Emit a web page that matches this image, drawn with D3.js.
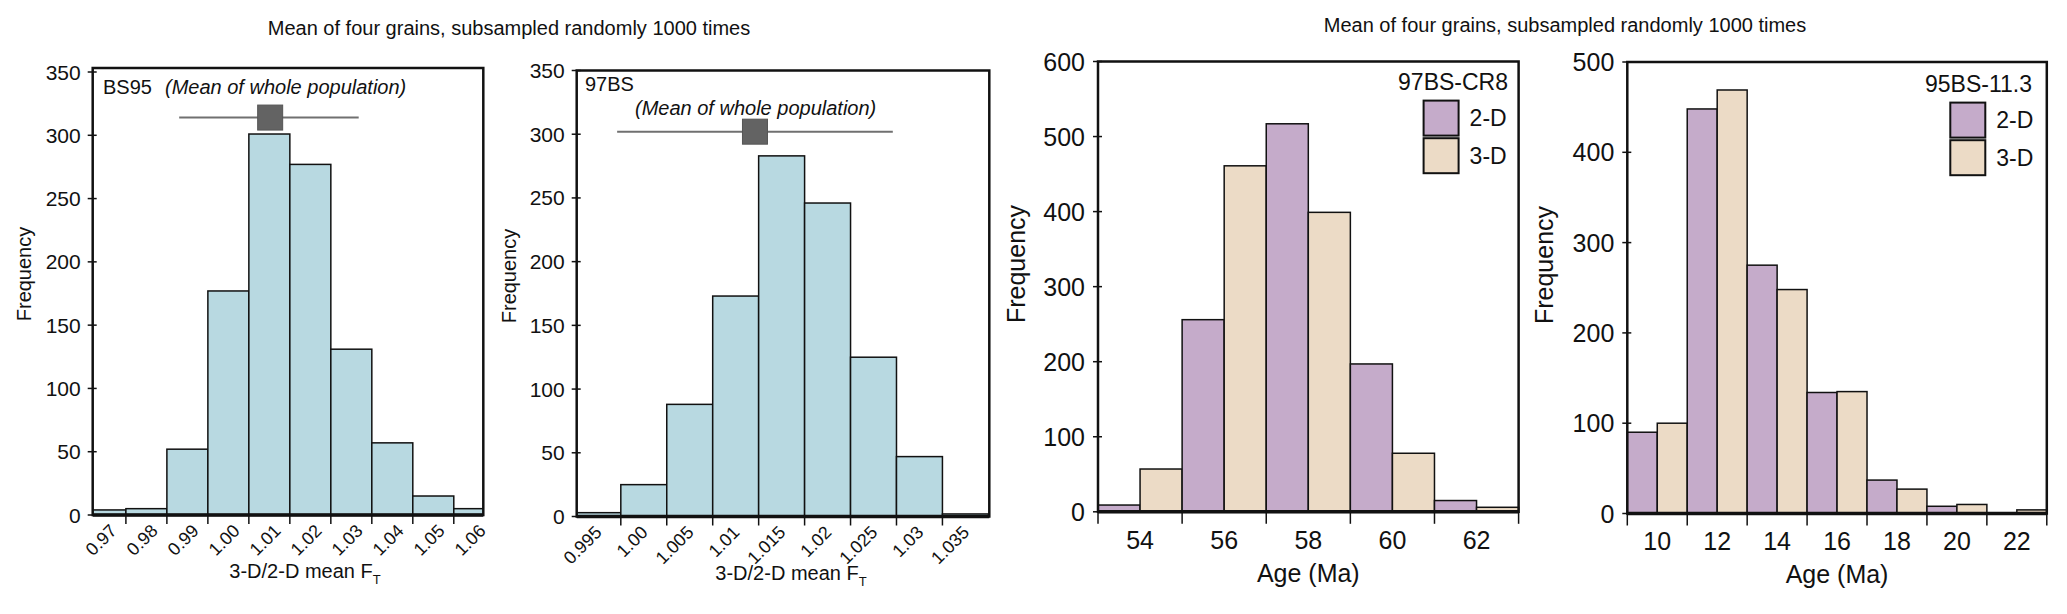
<!DOCTYPE html>
<html><head><meta charset="utf-8">
<script src="https://cdn.jsdelivr.net/npm/d3@7/dist/d3.min.js"></script>
<style>
body{margin:0;background:#fff;}
text{font-family:"Liberation Sans",Arial,sans-serif;fill:#111;}
</style></head>
<body>
<svg id="chart" width="2067" height="614"></svg>
<script>
// ---------- DATA ----------
const titleText = "Mean of four grains, subsampled randomly 1000 times";

// Panel 1: BS95
const p1BinStarts = [0.96, 0.97, 0.98, 0.99, 1.00, 1.01, 1.02, 1.03, 1.04, 1.05];
const p1BinWidth = 0.01;
const p1Counts = [4, 5, 52, 177, 301, 277, 131, 57, 15, 5];
const p1Ticks = [0.97, 0.98, 0.99, 1.00, 1.01, 1.02, 1.03, 1.04, 1.05, 1.06];
const p1TickLabels = ["0.97", "0.98", "0.99", "1.00", "1.01", "1.02", "1.03", "1.04", "1.05", "1.06"];
const p1YTicks = [0, 50, 100, 150, 200, 250, 300, 350];
const p1Mean = {value: 1.0052, low: 0.9830, high: 1.0268, level: 314};

// Panel 2: 97BS
const p2BinStarts = [0.995, 1.000, 1.005, 1.010, 1.015, 1.020, 1.025, 1.030, 1.035];
const p2BinWidth = 0.005;
const p2Counts = [3, 25, 88, 173, 283, 246, 125, 47, 2];
const p2Ticks = [0.995, 1.000, 1.005, 1.010, 1.015, 1.020, 1.025, 1.030, 1.035];
const p2TickLabels = ["0.995", "1.00", "1.005", "1.01", "1.015", "1.02", "1.025", "1.03", "1.035"];
const p2YTicks = [0, 50, 100, 150, 200, 250, 300, 350];
const p2Mean = {value: 1.0146, low: 0.9996, high: 1.0296, level: 302};

// Panel 3: 97BS-CR8
const p3Ages = [54, 56, 58, 60, 62];
const p3TwoD = [9, 256, 517, 197, 15];
const p3ThreeD = [57, 461, 399, 78, 6];
const p3YTicks = [0, 100, 200, 300, 400, 500, 600];

// Panel 4: 95BS-11.3
const p4Ages = [10, 12, 14, 16, 18, 20, 22];
const p4TwoD = [90, 448, 275, 134, 37, 8, 0];
const p4ThreeD = [100, 469, 248, 135, 27, 10, 4];
const p4YTicks = [0, 100, 200, 300, 400, 500];

const seriesNames = ["2-D", "3-D"];

// ---------- STYLE ----------
const blue = "#b8d9e1", purple = "#c5abca", beige = "#ecdbc6";
const svg = d3.select("#chart");
svg.append("rect").attr("width", 2067).attr("height", 614).attr("fill", "#fff");

svg.append("text").attr("x", 509).attr("y", 35).attr("text-anchor", "middle")
  .style("font-size", "20px").text(titleText);
svg.append("text").attr("x", 1565).attr("y", 32).attr("text-anchor", "middle")
  .style("font-size", "20px").text(titleText);

function yAxisDraw(g, y, ticks, x0, fs, labelGap) {
  ticks.forEach(t => {
    g.append("line").attr("x1", x0 - 5).attr("x2", x0 + 4).attr("y1", y(t)).attr("y2", y(t))
      .attr("stroke", "#111").attr("stroke-width", 1.5);
    g.append("text").attr("x", x0 - labelGap).attr("y", y(t)).attr("dy", "0.36em")
      .attr("text-anchor", "end").style("font-size", fs + "px").text(t);
  });
}

function histPanel(cfg) {
  const g = svg.append("g");
  const x = d3.scaleLinear().domain(cfg.xDomain).range([cfg.left, cfg.right]);
  const y = d3.scaleLinear().domain([0, 350]).range([cfg.zeroY, cfg.topY]);
  const clipId = "clip" + cfg.id;
  svg.append("clipPath").attr("id", clipId).append("rect")
    .attr("x", cfg.left).attr("y", cfg.frameTop).attr("width", cfg.right - cfg.left).attr("height", cfg.zeroY - cfg.frameTop);
  g.append("g").attr("clip-path", `url(#${clipId})`).selectAll("rect")
    .data(cfg.starts.map((s, i) => ({s, c: cfg.counts[i]})))
    .join("rect")
    .attr("x", d => x(d.s)).attr("width", d => x(d.s + cfg.binW) - x(d.s))
    .attr("y", d => y(d.c)).attr("height", d => y(0) - y(d.c))
    .attr("fill", blue).attr("stroke", "#111").attr("stroke-width", 1.5);
  g.append("rect").attr("x", cfg.left).attr("y", cfg.frameTop).attr("width", cfg.right - cfg.left)
    .attr("height", cfg.zeroY - cfg.frameTop).attr("fill", "none").attr("stroke", "#111").attr("stroke-width", 2.5);
  g.append("line").attr("x1", cfg.left).attr("x2", cfg.right).attr("y1", cfg.zeroY).attr("y2", cfg.zeroY)
    .attr("stroke", "#111").attr("stroke-width", 3.5);
  cfg.ticks.forEach((t, i) => {
    const tx = x(t);
    if (tx > cfg.left + 2 && tx < cfg.right - 2) {
      g.append("line").attr("x1", tx).attr("x2", tx).attr("y1", cfg.zeroY).attr("y2", cfg.zeroY + 9)
        .attr("stroke", "#111").attr("stroke-width", 1.5);
    }
    g.append("text").attr("text-anchor", "end")
      .attr("transform", `translate(${tx + cfg.labelDx},${cfg.zeroY + 17}) rotate(-45)`)
      .style("font-size", "18px").text(cfg.tickLabels[i]);
  });
  yAxisDraw(g, y, cfg.yTicks, cfg.left, 21, 12);
  const t = g.append("text").attr("x", cfg.xTitleX).attr("y", cfg.xTitleY).attr("text-anchor", "middle")
    .style("font-size", "20px");
  t.append("tspan").text("3-D/2-D mean F");
  t.append("tspan").attr("dy", 6).style("font-size", "13px").text("T");
  g.append("text").attr("transform", `translate(${cfg.yTitleX},${cfg.yTitleY}) rotate(-90)`)
    .attr("text-anchor", "middle").style("font-size", "20px").text("Frequency");
  g.append("text").attr("x", cfg.nameX).attr("y", cfg.nameY).style("font-size", "20px").text(cfg.name);
  g.append("text").attr("x", cfg.noteX).attr("y", cfg.noteY).style("font-size", "20px")
    .style("font-style", "italic").text("(Mean of whole population)");
  const m = cfg.mean;
  g.append("line").attr("x1", x(m.low)).attr("x2", x(m.high)).attr("y1", y(m.level)).attr("y2", y(m.level))
    .attr("stroke", "#707070").attr("stroke-width", 2);
  g.append("rect").attr("x", x(m.value) - 12.5).attr("y", y(m.level) - 12.5).attr("width", 25).attr("height", 25)
    .attr("fill", "#636363").attr("stroke", "#555").attr("stroke-width", 1);
}

histPanel({id: 1, xDomain: [0.9619, 1.0572], left: 92.7, right: 483.3, zeroY: 515, topY: 72, frameTop: 68,
  starts: p1BinStarts, binW: p1BinWidth, counts: p1Counts, ticks: p1Ticks, tickLabels: p1TickLabels,
  yTicks: p1YTicks, labelDx: -8, xTitleX: 305, xTitleY: 578, yTitleX: 31, yTitleY: 274,
  name: "BS95", nameX: 103, nameY: 94, noteX: 165, noteY: 94, mean: p1Mean});

histPanel({id: 2, xDomain: [0.9952, 1.0401], left: 576.7, right: 989.3, zeroY: 516.5, topY: 70.5, frameTop: 70.5,
  starts: p2BinStarts, binW: p2BinWidth, counts: p2Counts, ticks: p2Ticks, tickLabels: p2TickLabels,
  yTicks: p2YTicks, labelDx: 28, xTitleX: 791, xTitleY: 580, yTitleX: 516, yTitleY: 276,
  name: "97BS", nameX: 585, nameY: 91, noteX: 635, noteY: 115, mean: p2Mean});

function groupPanel(cfg) {
  const g = svg.append("g");
  const x = d3.scaleBand().domain(cfg.ages).range([cfg.left, cfg.right]).paddingInner(0).paddingOuter(0);
  const xs = d3.scaleBand().domain(seriesNames).range([0, x.bandwidth()]);
  const y = d3.scaleLinear().domain([0, cfg.yMax]).range([cfg.zeroY, cfg.topY]);
  const color = d3.scaleOrdinal().domain(seriesNames).range([purple, beige]);
  const rows = cfg.ages.map((a, i) => ({age: a, vals: [{k: "2-D", v: cfg.twoD[i]}, {k: "3-D", v: cfg.threeD[i]}]}));
  g.selectAll("g.cat").data(rows).join("g").attr("class", "cat")
    .attr("transform", d => `translate(${x(d.age)},0)`)
    .selectAll("rect").data(d => d.vals).join("rect")
    .attr("x", d => xs(d.k)).attr("width", xs.bandwidth())
    .attr("y", d => y(d.v)).attr("height", d => y(0) - y(d.v))
    .attr("fill", d => color(d.k)).attr("stroke", "#111").attr("stroke-width", 1.5);
  g.append("rect").attr("x", cfg.left).attr("y", cfg.topY).attr("width", cfg.right - cfg.left)
    .attr("height", cfg.zeroY - cfg.topY).attr("fill", "none").attr("stroke", "#111").attr("stroke-width", 2.5);
  g.append("line").attr("x1", cfg.left).attr("x2", cfg.right).attr("y1", cfg.zeroY).attr("y2", cfg.zeroY)
    .attr("stroke", "#111").attr("stroke-width", 3.5);
  const bounds = cfg.ages.map(a => x(a)).concat([cfg.right]);
  bounds.forEach(b => {
    g.append("line").attr("x1", b).attr("x2", b).attr("y1", cfg.zeroY).attr("y2", cfg.zeroY + 12)
      .attr("stroke", "#111").attr("stroke-width", 1.5);
  });
  cfg.ages.forEach(a => {
    g.append("text").attr("x", x(a) + x.bandwidth() / 2).attr("y", cfg.tickLabelY).attr("text-anchor", "middle")
      .style("font-size", "25px").text(a);
  });
  yAxisDraw(g, y, cfg.yTicks, cfg.left, 25, 13);
  g.append("text").attr("x", (cfg.left + cfg.right) / 2).attr("y", cfg.xTitleY).attr("text-anchor", "middle")
    .style("font-size", "25px").text("Age (Ma)");
  g.append("text").attr("transform", `translate(${cfg.yTitleX},${cfg.yTitleY}) rotate(-90)`)
    .attr("text-anchor", "middle").style("font-size", "25px").text("Frequency");
  g.append("text").attr("x", cfg.legRight).attr("y", cfg.legTitleY).attr("text-anchor", "end")
    .style("font-size", "23px").text(cfg.name);
  seriesNames.forEach((s, i) => {
    const by = cfg.legBoxY + i * 37.6;
    g.append("rect").attr("x", cfg.legBoxX).attr("y", by).attr("width", 35).attr("height", 35)
      .attr("fill", color(s)).attr("stroke", "#111").attr("stroke-width", 2);
    g.append("text").attr("x", cfg.legBoxX + 46).attr("y", by + 17.5).attr("dy", "0.36em")
      .style("font-size", "23px").text(s);
  });
}

groupPanel({ages: p3Ages, twoD: p3TwoD, threeD: p3ThreeD, yMax: 600, yTicks: p3YTicks,
  left: 1098, right: 1518.6, zeroY: 511.8, topY: 61.5, tickLabelY: 549, xTitleY: 582, yTitleX: 1025, yTitleY: 264,
  name: "97BS-CR8", legRight: 1508, legTitleY: 90, legBoxX: 1423.6, legBoxY: 100.6});

groupPanel({ages: p4Ages, twoD: p4TwoD, threeD: p4ThreeD, yMax: 500, yTicks: p4YTicks,
  left: 1627.3, right: 2046.8, zeroY: 513.5, topY: 62, tickLabelY: 550, xTitleY: 583, yTitleX: 1553, yTitleY: 265,
  name: "95BS-11.3", legRight: 2032, legTitleY: 92, legBoxX: 1950.3, legBoxY: 102.6});
</script>
</body></html>
